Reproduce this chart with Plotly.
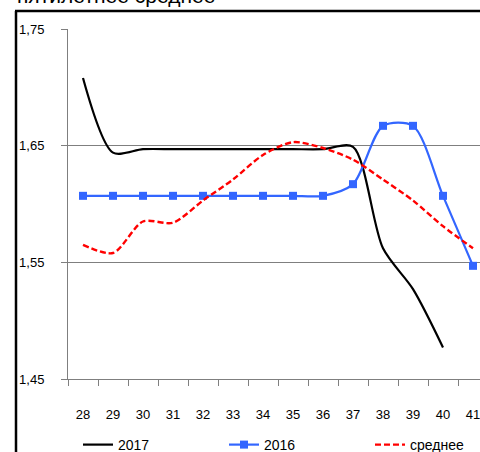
import plotly.graph_objects as go

weeks = ["28", "29", "30", "31", "32", "33", "34", "35", "36", "37", "38", "39", "40", "41"]
y2017 = [1.708, 1.644, 1.647, 1.647, 1.647, 1.647, 1.647, 1.647, 1.647, 1.649, 1.562, 1.527, 1.477, None]
y2016 = [1.607, 1.607, 1.607, 1.607, 1.607, 1.607, 1.607, 1.607, 1.607, 1.617, 1.667, 1.667, 1.607, 1.547]
yavg = [1.565, 1.558, 1.585, 1.584, 1.603, 1.621, 1.642, 1.653, 1.648, 1.638, 1.621, 1.603, 1.581, 1.562]
yticks = [1.45, 1.55, 1.65, 1.75]
title_text = "пятилетнее среднее"

FONT = "Liberation Sans, Arial, sans-serif"

fig = go.Figure()
fig.add_trace(go.Scatter(x=weeks, y=y2017, name="2017", mode="lines", legend="legend",
                         line=dict(color="#000000", width=2.2, shape="spline", smoothing=0.8)))
fig.add_trace(go.Scatter(x=weeks, y=y2016, name="2016", mode="lines+markers", legend="legend2",
                         line=dict(color="#3366ff", width=2.2, shape="spline", smoothing=0.8),
                         marker=dict(symbol="square", size=8, color="#3366ff")))
fig.add_trace(go.Scatter(x=weeks, y=yavg, name="среднее", mode="lines", legend="legend3",
                         line=dict(color="#ff0000", width=2.4, dash="6px,3px", shape="spline", smoothing=0.8)))

W, H = 480, 452
L, R, T, B = 68, 0, 29, 452 - 379
pw = W - L - R
ph = H - T - B

def px_x(p):
    return (p - L) / pw

def px_y(p):
    return 1 - (p - T) / ph

def leg(xpix):
    return dict(orientation="h", x=px_x(xpix), y=px_y(445), xanchor="left", yanchor="middle",
                font=dict(size=14, family=FONT), bgcolor="rgba(0,0,0,0)", borderwidth=0)

fig.update_layout(
    width=W, height=H,
    margin=dict(l=L, r=R, t=T, b=B, autoexpand=False),
    paper_bgcolor="white", plot_bgcolor="white",
    separators=", ",
    font=dict(family=FONT, size=13, color="#000000"),
    showlegend=True,
    legend=leg(78),
    legend2=leg(224),
    legend3=leg(370),
    xaxis=dict(type="category", range=[-0.5, 13.5 - 8 / 30], showgrid=False, automargin=False,
               showline=True, linecolor="#7f7f7f", linewidth=1,
               ticks="outside", ticklen=6, tickcolor="#7f7f7f", tickson="boundaries",
               ticklabelstandoff=23, tickfont=dict(size=13, family=FONT), zeroline=False),
    yaxis=dict(range=[1.45, 1.75], tickvals=yticks, tickformat=".2f", automargin=False,
               showgrid=True, gridcolor="#7f7f7f", gridwidth=1,
               showline=True, linecolor="#7f7f7f", linewidth=1,
               ticks="outside", ticklen=6, tickcolor="#7f7f7f",
               ticklabelstandoff=14, tickfont=dict(size=13, family=FONT), zeroline=False),
    shapes=[
        dict(type="line", xref="paper", yref="paper", x0=px_x(16), x1=px_x(16),
             y0=px_y(460), y1=px_y(11), line=dict(color="#000000", width=2.5)),
        dict(type="line", xref="paper", yref="paper", x0=px_x(15), x1=px_x(490),
             y0=px_y(11), y1=px_y(11), line=dict(color="#000000", width=2.5)),
    ],
    annotations=[
        dict(text=title_text, xref="paper", yref="paper", x=px_x(15), y=px_y(9),
             xanchor="left", yanchor="bottom", showarrow=False,
             font=dict(size=21, family=FONT, color="#000000")),
    ],
)

fig.write_html("out.html", config={"displayModeBar": False},
               post_script="document.body.style.margin='0';")
